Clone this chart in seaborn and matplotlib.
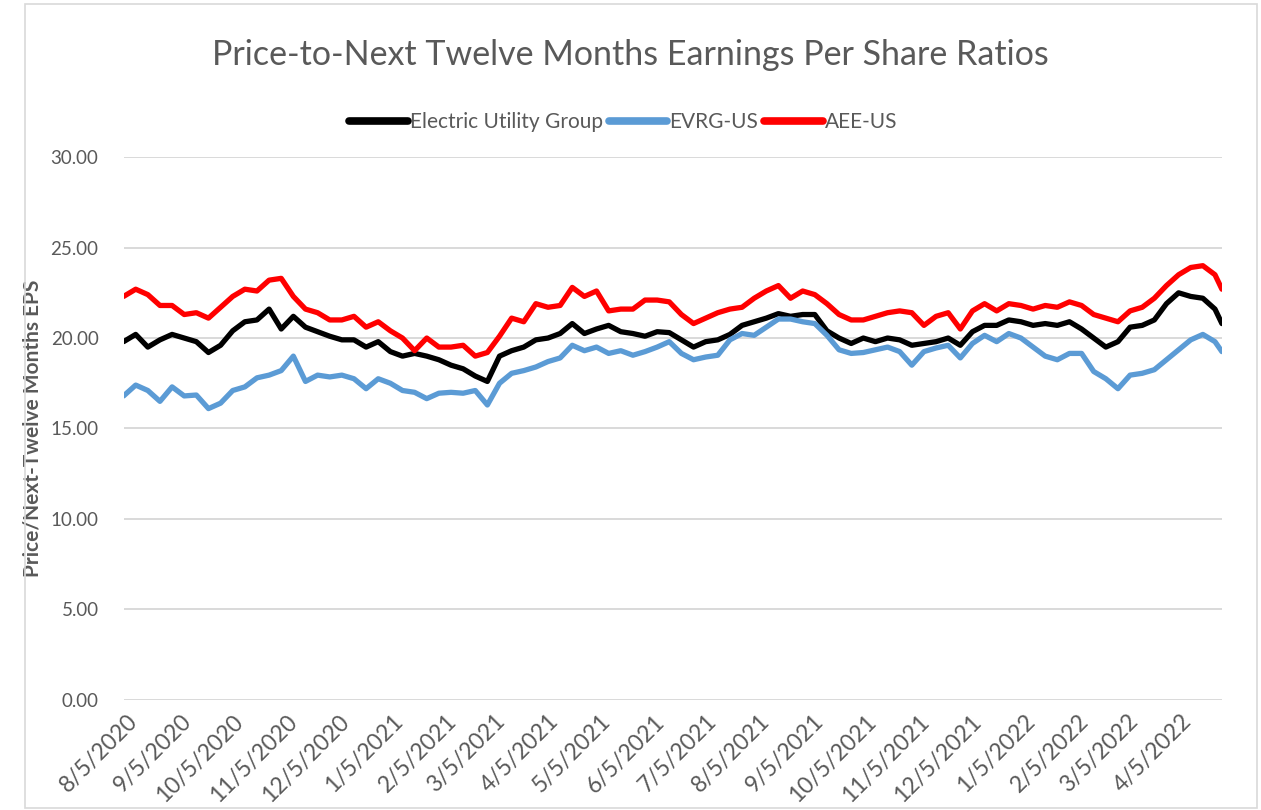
import matplotlib
matplotlib.use("Agg")
import matplotlib.pyplot as plt
from matplotlib.ticker import FuncFormatter
from matplotlib.patches import Rectangle
import seaborn as sns
import pandas as pd

# weekly readings, first week of Aug 2020 to end of Apr 2022
dates = pd.date_range("2020-08-03", periods=91, freq="7D").append(pd.DatetimeIndex(["2022-04-29"]))

group = [19.8, 20.2, 19.5, 19.9, 20.2, 20.0, 19.8, 19.2, 19.6, 20.4,
         20.9, 21.0, 21.6, 20.5, 21.2, 20.6, 20.35, 20.1, 19.9, 19.9,
         19.5, 19.8, 19.25, 19.0, 19.15, 19.0, 18.8, 18.5, 18.3, 17.9,
         17.6, 19.0, 19.3, 19.5, 19.9, 20.0, 20.25, 20.8, 20.25, 20.5,
         20.7, 20.35, 20.25, 20.1, 20.35, 20.3, 19.9, 19.5, 19.8, 19.9,
         20.2, 20.7, 20.9, 21.1, 21.35, 21.2, 21.3, 21.3, 20.4, 20.0,
         19.7, 20.0, 19.8, 20.0, 19.9, 19.6, 19.7, 19.8, 20.0, 19.6,
         20.35, 20.7, 20.7, 21.0, 20.9, 20.7, 20.8, 20.7, 20.9, 20.5,
         20.0, 19.5, 19.8, 20.6, 20.7, 21.0, 21.9, 22.5, 22.3, 22.2,
         21.6, 20.8]

evrg = [16.8, 17.4, 17.1, 16.5, 17.3, 16.8, 16.85, 16.1, 16.4, 17.1,
        17.3, 17.8, 17.95, 18.2, 19.0, 17.6, 17.95, 17.85, 17.95, 17.75,
        17.2, 17.75, 17.5, 17.1, 17.0, 16.65, 16.95, 17.0, 16.95, 17.1,
        16.3, 17.5, 18.05, 18.2, 18.4, 18.7, 18.9, 19.6, 19.3, 19.5,
        19.15, 19.3, 19.05, 19.25, 19.5, 19.8, 19.15, 18.8, 18.95, 19.05,
        19.9, 20.25, 20.15, 20.6, 21.05, 21.05, 20.9, 20.8, 20.15, 19.35,
        19.15, 19.2, 19.35, 19.5, 19.25, 18.5, 19.25, 19.45, 19.6, 18.9,
        19.7, 20.15, 19.8, 20.25, 20.0, 19.5, 19.0, 18.8, 19.15, 19.15,
        18.15, 17.75, 17.2, 17.95, 18.05, 18.25, 18.8, 19.35, 19.9, 20.2,
        19.8, 19.25]

aee = [22.3, 22.7, 22.4, 21.8, 21.8, 21.3, 21.4, 21.1, 21.7, 22.3,
       22.7, 22.6, 23.2, 23.3, 22.3, 21.6, 21.4, 21.0, 21.0, 21.2,
       20.6, 20.9, 20.4, 20.0, 19.3, 20.0, 19.5, 19.5, 19.6, 19.0,
       19.2, 20.1, 21.1, 20.9, 21.9, 21.7, 21.8, 22.8, 22.3, 22.6,
       21.5, 21.6, 21.6, 22.1, 22.1, 22.0, 21.3, 20.8, 21.1, 21.4,
       21.6, 21.7, 22.2, 22.6, 22.9, 22.2, 22.6, 22.4, 21.9, 21.3,
       21.0, 21.0, 21.2, 21.4, 21.5, 21.4, 20.7, 21.2, 21.4, 20.5,
       21.5, 21.9, 21.5, 21.9, 21.8, 21.6, 21.8, 21.7, 22.0, 21.8,
       21.3, 21.1, 20.9, 21.5, 21.7, 22.2, 22.9, 23.5, 23.9, 24.0,
       23.5, 22.7]

series_names = ["Electric Utility Group", "EVRG-US", "AEE-US"]
colors = ["#000000", "#5b9bd5", "#ff0000"]

df = pd.DataFrame({"date": dates, series_names[0]: group,
                   series_names[1]: evrg, series_names[2]: aee})
long = df.melt(id_vars="date", var_name="series", value_name="pe")

sns.set_theme(style="white")
plt.rcParams["font.family"] = ["Lato", "DejaVu Sans"]
grey = "#595959"

fig = plt.figure(figsize=(12.61, 8.10), dpi=100)
ax = fig.add_axes([0.098, 0.136, 0.871, 0.670])

sns.lineplot(data=long, x="date", y="pe", hue="series", hue_order=series_names,
             palette=colors, linewidth=3.8, ax=ax, legend=False)

ax.set_ylim(0, 30)
ax.set_yticks(range(0, 31, 5))
ax.yaxis.set_major_formatter(FuncFormatter(lambda v, p: f"{v:.2f}"))
ax.grid(axis="y", color="#d9d9d9", linewidth=1.4)
ax.grid(axis="x", visible=False)
for s in ax.spines.values():
    s.set_visible(False)

ax.set_xlim(dates[0], dates[-1])
ticks = pd.date_range("2020-08-01", "2022-04-01", freq="MS") + pd.Timedelta(days=4)
ax.set_xticks(ticks)
ax.set_xticklabels([f"{t.month}/{t.day}/{t.year}" for t in ticks],
                   rotation=45, ha="right", rotation_mode="anchor")
ax.tick_params(axis="x", length=0, labelsize=16.5, labelcolor=grey, pad=8)
ax.tick_params(axis="y", length=0, labelsize=13.5, labelcolor=grey, pad=18)

ax.set_xlabel("")
ax.set_ylabel("Price/Next-Twelve Months EPS", fontsize=15, color=grey,
              fontweight="bold")
ax.yaxis.set_label_coords(-0.074, 0.5)

fig.text(0.50, 0.932, "Price-to-Next Twelve Months Earnings Per Share Ratios",
         ha="center", va="center", fontsize=24.5, color=grey)

handles = [plt.Line2D([], [], color=c, linewidth=5.5, solid_capstyle="round") for c in colors]
ax.legend(handles, series_names, loc="center", bbox_to_anchor=(0.455, 1.065),
          ncol=3, frameon=False, fontsize=15, labelcolor=grey,
          handlelength=2.8, handletextpad=0.1, columnspacing=0.3)

fig.patches.append(Rectangle((0.02, 0.003), 0.977, 0.992, transform=fig.transFigure,
                             fill=False, edgecolor="#d9d9d9", linewidth=1.2))

fig.savefig("out.png", dpi=100)
